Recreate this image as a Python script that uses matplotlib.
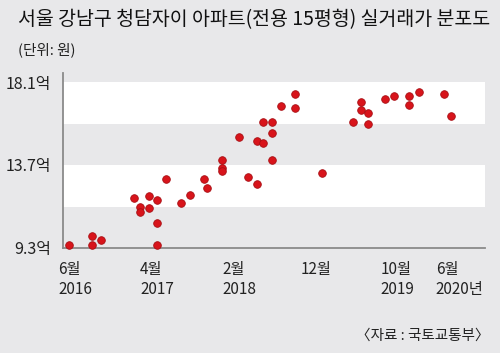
import matplotlib
matplotlib.use("Agg")
import matplotlib.pyplot as plt
import matplotlib.transforms as mtransforms

plt.rcParams['font.family'] = ['Noto Sans CJK KR', 'DejaVu Sans']

# 거래 시점 (2016년 6월부터 경과 개월 수)과 거래가 (억 원)
months = [1.3, 4.1, 4.1, 5.2, 9.2, 11.1, 12.1, 10.0, 10.0, 11.1, 12.1, 12.1, 13.1, 15.0,
          16.1, 18.1, 17.8, 20.0, 20.0, 20.0, 22.0, 23.1, 24.2, 24.2, 25.0, 25.0,
          26.0, 26.0, 26.0, 27.2, 28.9, 28.9,
          32.1, 35.9, 36.9, 36.9, 37.8, 37.8, 39.8, 40.9, 42.8, 42.8, 44.0, 47.0, 47.9]
prices = [9.44, 9.92, 9.44, 9.72, 11.93, 12.04, 11.84, 11.47, 11.22, 11.44, 10.63, 9.44, 12.96, 11.67,
          12.13, 12.46, 12.96, 13.98, 13.52, 13.38, 15.17, 13.05, 14.96, 12.68, 14.87, 15.98,
          15.96, 15.38, 13.95, 16.81, 17.46, 16.72,
          13.26, 15.98, 17.02, 16.62, 16.47, 15.89, 17.20, 17.39, 17.37, 16.90, 17.59, 17.48, 16.31]

y_ticks = [9.3, 13.7, 18.1]
y_labels = ['9.3억', '13.7억', '18.1억']
band_edges = [9.3, 11.5, 13.7, 15.9, 18.1]

x_label_pos = [0, 10, 20, 29.5, 39.3, 46]
x_labels = ['6월\n2016', '4월\n2017', '2월\n2018', '12월', '10월\n2019', '6월\n2020년']

bg = '#e8e8ea'
fig = plt.figure(figsize=(5, 3.53), dpi=100, facecolor=bg)
ax = fig.add_axes([0.126, 0.2975, 0.844, 0.4955])
ax.set_facecolor(bg)
ax.set_xlim(0.6, 52.0)
ax.set_ylim(9.3, 18.58)

# 흰색/회색 띠
for i in range(len(band_edges) - 1):
    if i % 2 == 1:
        ax.axhspan(band_edges[i], band_edges[i + 1], color='white', lw=0, zorder=0)

ax.scatter(months, prices, s=30, color='#d8141b', edgecolors='#a80f14',
           linewidths=0.6, zorder=3, clip_on=False)

for s in ['top', 'right']:
    ax.spines[s].set_visible(False)
for s in ['left', 'bottom']:
    ax.spines[s].set_color('#8a8a8a')
    ax.spines[s].set_linewidth(1.3)

ax.set_xticks([])
ax.set_yticks([])

# y축 라벨
ytr = mtransforms.blended_transform_factory(fig.transFigure, ax.transData)
for v, lab in zip(y_ticks, y_labels):
    ax.text(0.102, v - 0.1, lab, transform=ytr, ha='right', va='center',
            fontsize=11.5, color='#222222')

# x축 라벨
xtr = mtransforms.blended_transform_factory(ax.transData, fig.transFigure)
for p, lab in zip(x_label_pos, x_labels):
    ax.text(p, 0.262, lab, transform=xtr, ha='left', va='top',
            fontsize=11, color='#222222', linespacing=1.25)

fig.text(0.036, 0.943, '서울 강남구 청담자이 아파트(전용 15평형) 실거래가 분포도',
         fontsize=14, fontweight='medium', color='#111111', va='center', ha='left')
fig.text(0.036, 0.86, '(단위: 원)', fontsize=10.5, color='#222222', va='center', ha='left')
fig.text(0.98, 0.05, '〈자료 : 국토교통부〉', fontsize=10.5, color='#222222',
         va='center', ha='right')

fig.savefig('out.png', dpi=100, facecolor=bg)
